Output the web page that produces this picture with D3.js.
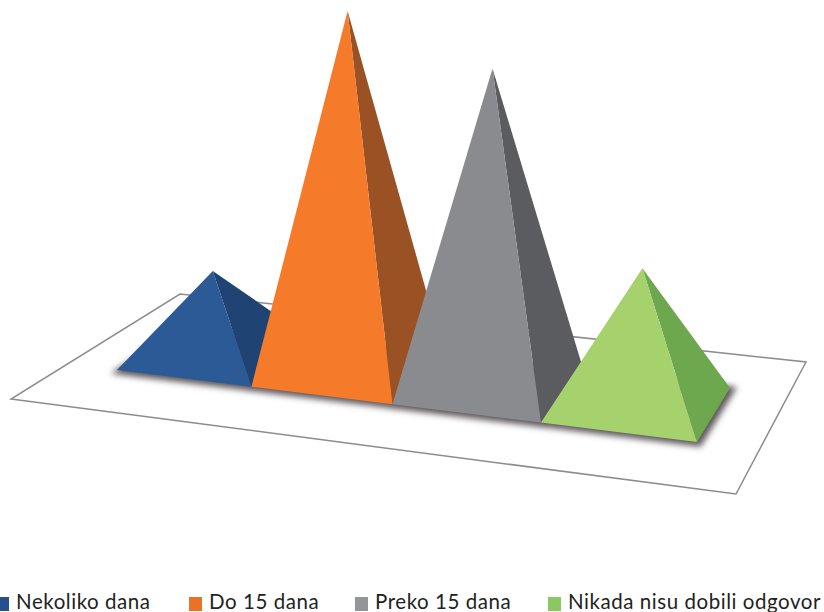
<!DOCTYPE html>
<html><head><meta charset="utf-8">
<script src="https://cdn.jsdelivr.net/npm/d3@7"></script>
<style>html,body{margin:0;padding:0;background:#fff;overflow:hidden}svg{display:block}</style>
</head><body><svg id="c" width="824" height="612"></svg>
<script>
// Data (share of answers, %)
const categories = ["Nekoliko dana","Do 15 dana","Preko 15 dana","Nikada nisu dobili odgovor"];
const values = [9.67, 41.8, 37.1, 15.9];
const frontColors = ["#2b5a96","#f57a29","#898b8f","#a6d26d"];
const sideColors = ["#1f4373","#9a5123","#5a5c60","#6da84f"];
const legendColors = ["#264f8e","#ea7125","#939598","#8cc862"];
const legendX = [-4,189,355,548];

// Perspective view of the chart floor: unit square → screen quad
const floorQuad = [[11,399],[736,494],[806,362],[180,294]];
const baseQuad = [[117,370],[697,442],[730,388],[184,324]];
function homography(q){
  const [[x0,y0],[x1,y1],[x2,y2],[x3,y3]] = q;
  const dx1=x1-x2, dx2=x3-x2, sx=x0-x1+x2-x3, dy1=y1-y2, dy2=y3-y2, sy=y0-y1+y2-y3;
  const den=dx1*dy2-dx2*dy1;
  const g=(sx*dy2-dx2*sy)/den, h=(dx1*sy-sx*dy1)/den;
  const a=x1-x0+g*x1, b=x3-x0+h*x3, d=y1-y0+g*y1, e=y3-y0+h*y3;
  return (u,v)=>{const w=g*u+h*v+1; return [(a*u+b*v+x0)/w,(d*u+e*v+y0)/w];};
}
const floor = homography(floorQuad);
const base = homography(baseQuad);
// category position along the floor (perspective foreshortening)
const xEdge = d3.scaleLinear().domain([0,1,2,3,4]).range([0,.2448,.493,.745,1]);
const yHeight = d3.scaleLinear().domain([0,100]).range([0,859]);
const lean = d3.scaleLinear().domain([0,1,2,3]).range([-3.5,-2.5,2,4.5]);

const svg = d3.select("#c");
const defs = svg.append("defs");
defs.append("filter").attr("id","soft").attr("x","-20%").attr("y","-20%").attr("width","140%").attr("height","140%")
  .append("feGaussianBlur").attr("stdDeviation",3);
const poly = p => p.map(d=>d.map(n=>n.toFixed(1)).join(",")).join(" ");

svg.append("polygon").attr("points",poly([[0,0],[1,0],[1,1],[0,1]].map(d=>floor(d[0],d[1]))))
  .attr("fill","#fff").attr("stroke","#8c8c8e").attr("stroke-width",1.5);

const pyramids = categories.map((c,i)=>{
  const u0=xEdge(i), u1=xEdge(i+1);
  const fl=base(u0,0), fr=base(u1,0), br=base(u1,1), bl=base(u0,1), ctr=base((u0+u1)/2,.5);
  return {c,i,fl,fr,br,bl,apex:[ctr[0]+lean(i), ctr[1]-yHeight(values[i])]};
});

svg.append("g").attr("filter","url(#soft)").selectAll("polygon").data(pyramids).join("polygon")
  .attr("points",d=>poly([d.fl,d.fr,d.br,d.bl].map(p=>[p[0]+2,p[1]+1.5])))
  .attr("fill","#5e565b").attr("stroke","#5e565b").attr("stroke-width",6);

const g = svg.append("g").selectAll("g").data(pyramids).join("g");
g.append("polygon").attr("points",d=>poly([d.apex,d.fr,d.br])).attr("fill",d=>sideColors[d.i]);
g.append("polygon").attr("points",d=>poly([d.apex,d.fl,d.fr])).attr("fill",d=>frontColors[d.i]);

const leg = svg.append("g").selectAll("g").data(categories).join("g")
  .attr("transform",(d,i)=>`translate(${legendX[i]},0)`);
leg.append("rect").attr("y",597).attr("width",13).attr("height",14).attr("fill",(d,i)=>legendColors[i]);
leg.append("text").attr("x",20).attr("y",609)
  .attr("font-family","Lato, 'Open Sans', sans-serif").attr("font-size",20.5).attr("fill","#231f20")
  .attr("letter-spacing",0.55).text(d=>d);
</script></body></html>
